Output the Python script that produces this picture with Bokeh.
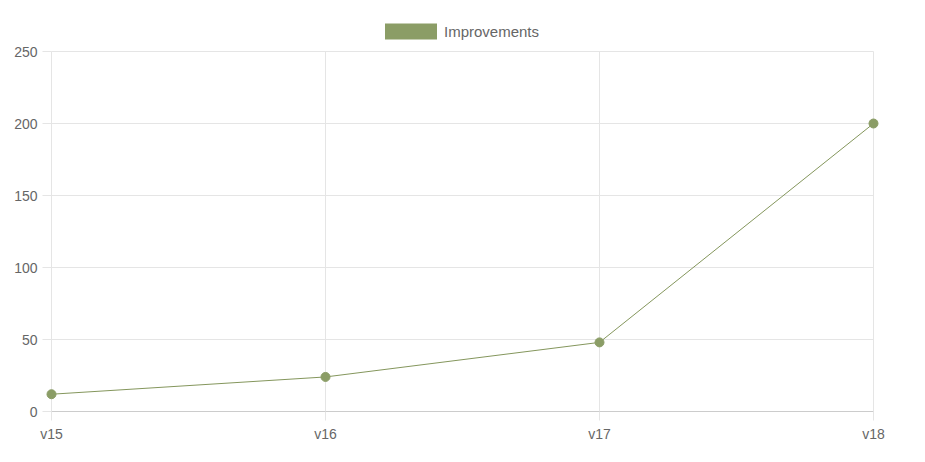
from bokeh.plotting import figure
from bokeh.models import Range1d, FixedTicker, Legend, LegendItem, ColumnDataSource
from bokeh.embed import file_html
from bokeh.resources import INLINE

versions = ["v15", "v16", "v17", "v18"]
improvements = [12, 24, 48, 200]
y_ticks = [0, 50, 100, 150, 200, 250]
y_max = 250

COLOR = "#8b9d66"
LINE = "#84965c"
FONT = "Liberation Sans"
TXT = "#666666"
GRID = "#e5e5e5"

idx = list(range(len(versions)))
n = len(versions) - 1
src = ColumnDataSource(dict(x=idx, y=improvements))

# layout in pixels: plotting area 822x360 starting at (51, 51);
# the frame is padded so edge markers and the legend are not clipped
PAD = 6
TOP = 51
inner_w, inner_h = 822, 360
px = PAD * n / inner_w
py_bottom = PAD * y_max / inner_h
py_top = TOP * y_max / inner_h

p = figure(width=925, height=462, output_backend="svg", toolbar_location=None,
           x_range=Range1d(-px, n + px), y_range=Range1d(-py_bottom, y_max + py_top),
           min_border_left=51 - PAD, min_border_right=52 - PAD,
           min_border_top=0, min_border_bottom=51 - PAD)
p.outline_line_color = None
p.grid.grid_line_color = None

# grid lines limited to the data area
p.segment(x0=idx, y0=[0] * len(idx), x1=idx, y1=[y_max] * len(idx),
          line_color=GRID, line_width=1)
p.segment(x0=[0] * len(y_ticks), y0=y_ticks, x1=[n] * len(y_ticks), y1=y_ticks,
          line_color=GRID, line_width=1)
p.segment(x0=[0], y0=[0], x1=[n], y1=[0], line_color="#cccccc", line_width=1)

p.line("x", "y", source=src, line_color=LINE, line_width=1)
p.scatter("x", "y", source=src, size=9, fill_color=COLOR, line_color=COLOR)
box = p.rect("x", "y", source=src, width=0, height=0, fill_color=COLOR, line_color=None)

p.xaxis.ticker = FixedTicker(ticks=idx)
p.xaxis.major_label_overrides = {i: v for i, v in zip(idx, versions)}
p.yaxis.ticker = FixedTicker(ticks=y_ticks)

for ax in (p.xaxis, p.yaxis):
    ax.axis_line_color = None
    ax.major_tick_line_color = GRID
    ax.major_tick_in = PAD
    ax.major_tick_out = 3
    ax.minor_tick_line_color = None
    ax.major_label_text_font = FONT
    ax.major_label_text_font_size = "14px"
    ax.major_label_text_color = TXT
p.xaxis.major_label_standoff = 5
p.yaxis.major_label_standoff = 5

legend = Legend(items=[LegendItem(label="Improvements", renderers=[box])],
                location=(333, 376), orientation="horizontal",
                glyph_width=65, glyph_height=20, label_standoff=1,
                label_text_font=FONT, label_text_font_size="15px", label_text_color=TXT,
                padding=0, margin=0, border_line_color=None, background_fill_alpha=0)
p.add_layout(legend)

open("out.html", "w").write(file_html(p, INLINE))
